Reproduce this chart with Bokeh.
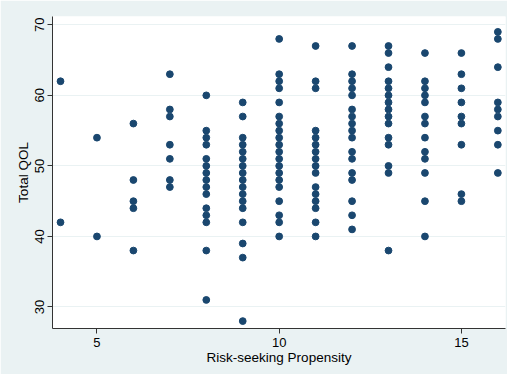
import math
from bokeh.plotting import figure
from bokeh.models import Range1d, FixedTicker
from bokeh.embed import file_html
from bokeh.resources import INLINE

# Risk-seeking propensity (x) and Total QOL values (y) per x column
x4 = [62, 42]
x5 = [54, 40]
x6 = [56, 48, 45, 44, 38]
x7 = [63, 58, 57, 53, 51, 48, 47]
x8 = [60, 55, 54, 53, 51, 50, 49, 48, 47, 46, 44, 43, 42, 38, 31]
x9 = [59, 57, 54, 53, 52, 51, 50, 49, 48, 47, 46, 45, 44, 42, 39, 37, 28]
x10 = [68, 63, 62, 61, 59, 57, 56, 55, 54, 53, 52, 51, 50, 49, 48, 47, 45, 43, 42, 40]
x11 = [67, 62, 61, 55, 54, 53, 52, 51, 50, 49, 47, 46, 45, 44, 42, 40]
x12 = [67, 63, 62, 61, 60, 58, 57, 56, 55, 54, 52, 51, 49, 48, 45, 43, 41]
x13 = [67, 66, 64, 62, 61, 60, 59, 58, 57, 56, 54, 53, 50, 49, 38]
x14 = [66, 62, 61, 60, 59, 57, 56, 54, 52, 51, 49, 45, 40]
x15 = [66, 63, 61, 59, 57, 56, 53, 46, 45]
x16 = [69, 68, 64, 59, 58, 57, 55, 53, 49]

columns = {4: x4, 5: x5, 6: x6, 7: x7, 8: x8, 9: x9, 10: x10,
           11: x11, 12: x12, 13: x13, 14: x14, 15: x15, 16: x16}

xs, ys = [], []
for k, vals in columns.items():
    for v in vals:
        xs.append(k)
        ys.append(v)

x_ticks = [5, 10, 15]
y_ticks = [30, 40, 50, 60, 70]

BG = "#eaf2f3"
DOT = "#1a476f"
FONT = "Liberation Sans"

p = figure(width=507, height=374, output_backend="svg", toolbar_location=None,
           x_range=Range1d(3.78, 16.21), y_range=Range1d(26.95, 71.18),
           min_border_left=52, min_border_right=2, min_border_top=16, min_border_bottom=46)

p.background_fill_color = "white"
p.border_fill_color = BG
p.outline_line_color = None

p.scatter(xs, ys, size=6.8, color=DOT, line_color=DOT)

p.xgrid.visible = False
p.ygrid.ticker = FixedTicker(ticks=y_ticks)
p.ygrid.grid_line_color = BG
p.ygrid.grid_line_width = 1

p.xaxis.ticker = FixedTicker(ticks=x_ticks)
p.yaxis.ticker = FixedTicker(ticks=y_ticks)
p.xaxis.axis_label = "Risk-seeking Propensity"
p.yaxis.axis_label = "Total QOL"
p.yaxis.major_label_orientation = "vertical"

for ax in (p.xaxis, p.yaxis):
    ax.axis_line_color = "#333333"
    ax.major_tick_line_color = "#333333"
    ax.minor_tick_line_color = None
    ax.major_tick_out = 5
    ax.major_tick_in = 0
    ax.major_label_text_font = FONT
    ax.major_label_text_font_size = "13px"
    ax.major_label_text_color = "black"
    ax.axis_label_text_font = FONT
    ax.axis_label_text_font_size = "13.5px"
    ax.axis_label_text_font_style = "normal"
    ax.axis_label_text_color = "black"

p.xaxis.major_label_standoff = 4
p.xaxis.axis_label_standoff = 0
p.yaxis.major_label_standoff = 3
p.yaxis.axis_label_standoff = 2

open("out.html", "w").write(file_html(p, INLINE))
